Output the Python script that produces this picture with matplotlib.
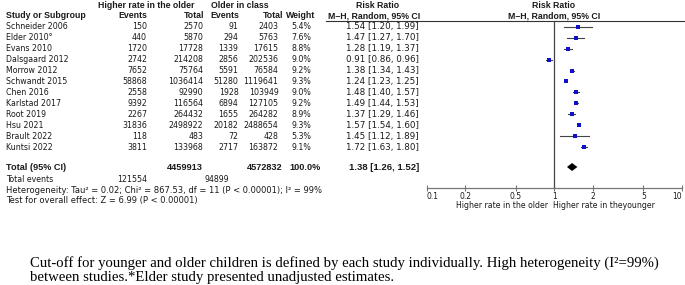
import matplotlib
matplotlib.use("Agg")
import matplotlib.pyplot as plt
from matplotlib.ticker import FixedLocator, FixedFormatter, NullLocator

# ---------------- data ----------------
studies = ["Schneider 2006", "Elder 2010\u00b0", "Evans 2010", "Dalsgaard 2012",
           "Morrow 2012", "Schwandt 2015", "Chen 2016", "Karlstad 2017",
           "Root 2019", "Hsu 2021", "Brault 2022", "Kuntsi 2022"]
events_older = [150, 440, 1720, 2742, 7652, 58868, 2558, 9392, 2267, 31836, 118, 3811]
total_older = [2570, 5870, 17728, 214208, 75764, 1036414, 92990, 116564, 264432,
               2498922, 483, 133968]
events_younger = [91, 294, 1339, 2856, 5591, 51280, 1928, 6894, 1655, 20182, 72, 2717]
total_younger = [2403, 5763, 17615, 202536, 76584, 1119641, 103949, 127105, 264282,
                 2488654, 428, 163872]
weights = [5.4, 7.6, 8.8, 9.0, 9.2, 9.3, 9.0, 9.2, 8.9, 9.3, 5.3, 9.1]
rr = [1.54, 1.47, 1.28, 0.91, 1.38, 1.24, 1.48, 1.49, 1.37, 1.57, 1.45, 1.72]
rr_lo = [1.20, 1.27, 1.19, 0.86, 1.34, 1.23, 1.40, 1.44, 1.29, 1.54, 1.12, 1.63]
rr_hi = [1.99, 1.70, 1.37, 0.96, 1.43, 1.25, 1.57, 1.53, 1.46, 1.60, 1.89, 1.80]
pooled = [1.38, 1.26, 1.52]
total_n = [4459913, 4572832]
total_events = [121554, 94899]
tick_vals = [0.1, 0.2, 0.5, 1, 2, 5, 10]
tick_labels = ["0.1", "0.2", "0.5", "1", "2", "5", "10"]

W, H = 685, 285
fig = plt.figure(figsize=(W / 100, H / 100), dpi=100)
fig.patch.set_facecolor("white")

# overlay axes in pixel coordinates for the table text
tax = fig.add_axes([0, 0, 1, 1])
tax.set_xlim(0, W)
tax.set_ylim(H, 0)
tax.axis("off")

FS = 5.7
FONT = "DejaVu Sans"
BFONT = "Liberation Sans"
TC = "#1a1a1a"

def t(x, y, s, ha="left", bold=False, fs=None, **kw):
    fam = BFONT if bold else FONT
    if fs is None:
        fs = 6.3 if bold else FS
    tax.text(x, y, s, ha=ha, va="center", fontsize=fs, family=fam,
             fontweight="bold" if bold else "normal", color=TC, **kw)

# headers
t(146, 5.5, "Higher rate in the older", ha="center", bold=True)
t(240, 5.5, "Older in class", ha="center", bold=True)
t(378, 5.5, "Risk Ratio", ha="center", bold=True)
t(554, 5.5, "Risk Ratio", ha="center", bold=True)
t(6, 15.5, "Study or Subgroup", bold=True)
t(147, 15.5, "Events", ha="right", bold=True)
t(204, 15.5, "Total", ha="right", bold=True)
t(239, 15.5, "Events", ha="right", bold=True)
t(283, 15.5, "Total", ha="right", bold=True)
t(315, 15.5, "Weight", ha="right", bold=True)
t(374, 15.5, "M\u2013H, Random, 95% CI", ha="center", bold=True)
t(554, 15.5, "M\u2013H, Random, 95% CI", ha="center", bold=True)
tax.plot([326, W], [20.7, 20.7], color="#333333", lw=0.8)

RRFS = 6.3
y0, dy = 26.7, 10.95
row_y = [y0 + i * dy for i in range(len(studies))]
for i, name in enumerate(studies):
    y = row_y[i]
    t(6, y, name)
    t(147, y, f"{events_older[i]}", ha="right")
    t(203, y, f"{total_older[i]}", ha="right")
    t(238.5, y, f"{events_younger[i]}", ha="right")
    t(278.5, y, f"{total_younger[i]}", ha="right")
    t(311, y, f"{weights[i]:.1f}%", ha="right")
    t(419, y, f"{rr[i]:.2f} [{rr_lo[i]:.2f}, {rr_hi[i]:.2f}]", ha="right", fs=RRFS)

ty = 167
t(6, ty, "Total (95% CI)", bold=True, fs=6.6)
t(203, ty, f"{total_n[0]}", ha="right", bold=True, fs=6.6)
t(283, ty, f"{total_n[1]}", ha="right", bold=True, fs=6.6)
t(321, ty, "100.0%", ha="right", bold=True, fs=6.6)
t(419, ty, f"{pooled[0]:.2f} [{pooled[1]:.2f}, {pooled[2]:.2f}]", ha="right", bold=True,
  fs=6.8)
t(6, 180, "Total events")
t(147, 180, f"{total_events[0]}", ha="right")
t(229, 180, f"{total_events[1]}", ha="right")
t(6, 190.7, "Heterogeneity: Tau\u00b2 = 0.02; Chi\u00b2 = 867.53, df = 11 (P < 0.00001); I\u00b2 = 99%",
  fs=6.0)
t(6, 201, "Test for overall effect: Z = 6.99 (P < 0.00001)", fs=6.0)

t(548, 205.5, "Higher rate in the older", ha="right", fs=5.6)
t(553, 205.5, "Higher rate in theyounger", ha="left", fs=5.6)

# caption
cap_kw = dict(ha="left", va="center", fontsize=10.6, family="Liberation Serif", color="black")
tax.text(30, 263, "Cut-off for younger and older children is defined by each study individually. "
         "High heterogeneity (I\u00b2=99%)", **cap_kw)
tax.text(30, 277, "between studies.*Elder study presented unadjusted estimates.", **cap_kw)

# forest plot axes
left, right, top, bottom = 426.7, 681.7, 20.7, 188
fax = fig.add_axes([left / W, 1 - bottom / H, (right - left) / W, (bottom - top) / H])
fax.patch.set_alpha(0)
fax.set_xscale("log")
fax.set_xlim(0.1, 10)
fax.set_ylim(bottom, top)
for s in ["top", "left", "right"]:
    fax.spines[s].set_visible(False)
fax.spines["bottom"].set_color("#777777")
fax.spines["bottom"].set_linewidth(0.9)
fax.yaxis.set_visible(False)
fax.xaxis.set_major_locator(FixedLocator(tick_vals))
fax.xaxis.set_major_formatter(FixedFormatter(tick_labels))
fax.xaxis.set_minor_locator(NullLocator())
fax.tick_params(axis="x", direction="inout", length=4.5, width=0.8, color="#777777",
                labelsize=5.5, pad=0.8, labelcolor=TC)
labs = fax.get_xticklabels()
for lab in labs:
    lab.set_family(FONT)
labs[0].set_horizontalalignment("left")
labs[-1].set_horizontalalignment("right")

fax.plot([1, 1], [top, bottom], color="#444444", lw=0.9, clip_on=False)
for i in range(len(studies)):
    y = row_y[i]
    fax.plot([rr_lo[i], rr_hi[i]], [y, y], color="#444444", lw=0.8)
    fax.plot(rr[i], y, marker="s", ms=weights[i] ** 0.5 * 1.0, color="#1010c8",
             markeredgewidth=0, linestyle="none")

fax.fill([pooled[1], pooled[0], pooled[2], pooled[0]], [ty, ty - 4, ty, ty + 4],
         color="black", lw=0)

fig.savefig("out.png", dpi=100, facecolor="white")
